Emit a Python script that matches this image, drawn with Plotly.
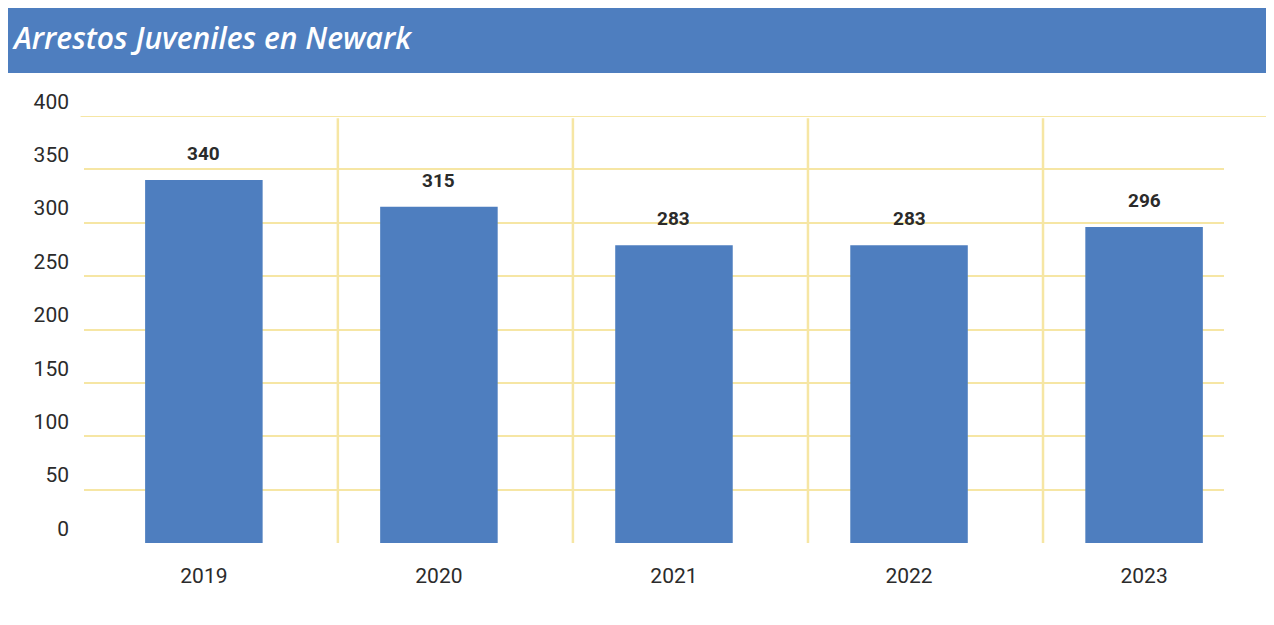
import plotly.graph_objects as go

# Data -------------------------------------------------------------------------
years = ['2019', '2020', '2021', '2022', '2023']
arrests = [340, 315, 279, 279, 296]          # bar heights as drawn
arrest_labels = ['340', '315', '283', '283', '296']  # labels as printed
y_ticks = [0, 50, 100, 150, 200, 250, 300, 350, 400]

title_text = 'Arrestos Juveniles en Newark'

# Style --------------------------------------------------------------------------
bar_colour = '#4E7EBF'
grid_colour = '#F6E6A4'
text_colour = '#2b2b2b'
font_family = 'Roboto, Open Sans, sans-serif'

# Figure ---------------------------------------------------------------------------
fig = go.Figure(go.Bar(
    x=years,
    y=arrests,
    width=0.5,
    marker=dict(color=bar_colour, line=dict(width=0)),
    hoverinfo='skip'))

# value labels above bars (category index for x)
for i, (val, lab) in enumerate(zip(arrests, arrest_labels)):
    fig.add_annotation(x=i, y=val, text=f'<b>{lab}</b>', showarrow=False,
                       yanchor='bottom', yshift=13,
                       font=dict(size=19, color=text_colour, family=font_family))

# vertical separators between years
for i in range(len(years) - 1):
    fig.add_shape(type='line', xref='x', yref='paper', x0=i + 0.57, x1=i + 0.57,
                  y0=0, y1=0.995, line=dict(color=grid_colour, width=2.5), layer='below')

# top rule that runs past the plot
fig.add_shape(type='line', xref='paper', yref='y', x0=-0.003, x1=1.04, y0=400, y1=400,
              line=dict(color=grid_colour, width=2), layer='below')

# header band + title
fig.add_shape(type='rect', xref='paper', yref='paper', x0=-0.1, x1=1.1, y0=1.1007, y1=1.27,
              fillcolor=bar_colour, line=dict(width=0), layer='below')
fig.add_annotation(xref='paper', yref='paper', x=-0.065, y=1.1827, xanchor='left', yanchor='middle',
                   text=title_text, showarrow=False,
                   font=dict(size=30, color='white', family='Open Sans, sans-serif',
                             style='italic', weight=600))

fig.update_layout(
    width=1274, height=625,
    margin=dict(l=76, r=58, t=108, b=90),
    paper_bgcolor='white', plot_bgcolor='white',
    showlegend=False,
    font=dict(family=font_family, color=text_colour, size=20),
    xaxis=dict(type='category', range=[-0.51, 4.34], showgrid=False, zeroline=False,
               showline=False, ticks='', ticklabelstandoff=18,
               tickfont=dict(size=21, color=text_colour)),
    yaxis=dict(range=[0, 400], tickvals=y_ticks, showgrid=True, gridcolor=grid_colour,
               gridwidth=2, zeroline=False, showline=False, ticks='',
               ticklabelposition='outside top', ticklabelstandoff=14,
               tickfont=dict(size=21, color=text_colour)))

fig.write_html('out.html')
